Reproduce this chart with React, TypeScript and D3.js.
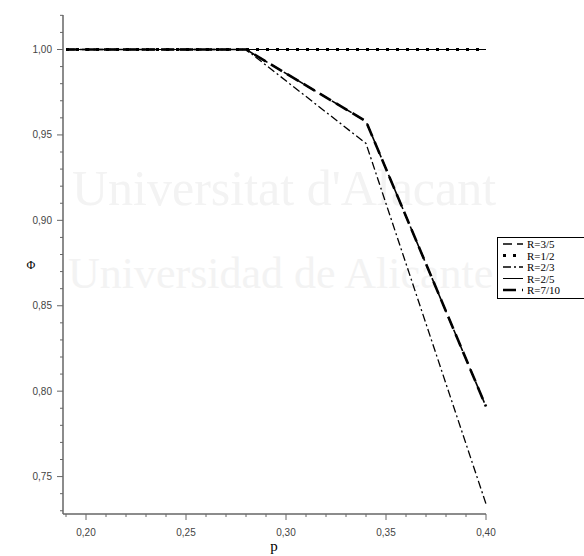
import * as d3 from "d3";
import React from "react";

// data
const pValues = [0.19, 0.22, 0.25, 0.28, 0.34, 0.4];
const phiR35 = [1.0, 1.0, 1.0, 1.0, 0.958, 0.791];
const phiR12 = [1.0, 1.0, 1.0, 1.0, 1.0, 1.0];
const phiR23 = [1.0, 1.0, 1.0, 1.0, 0.945, 0.734];
const phiR25 = [1.0, 1.0, 1.0, 1.0, 1.0, 1.0];
const phiR710 = [1.0, 1.0, 1.0, 1.0, 0.958, 0.791];

const seriesNames = ["R=3/5", "R=1/2", "R=2/3", "R=2/5", "R=7/10"];
const xTickLabels = ["0,20", "0,25", "0,30", "0,35", "0,40"];
const yTickLabels = ["0,75", "0,80", "0,85", "0,90", "0,95", "1,00"];

const styles = [
  { dash: "9,5", width: 1.6 },
  { dash: "3,7", width: 3 },
  { dash: "8,3,2,3", width: 1.3 },
  { dash: null, width: 1 },
  { dash: "13,6", width: 2.6 },
];

const App = () => {
  const width = 584;
  const height = 556;

  const x = d3.scaleLinear().domain([0.1885, 0.4]).range([63, 486]);
  const y = d3.scaleLinear().domain([0.7281, 1.0202]).range([514, 15]);

  const allSeries = [phiR35, phiR12, phiR23, phiR25, phiR710];

  const line = d3
    .line<number>()
    .x((_, i) => x(pValues[i]))
    .y((d) => y(d));

  // minor ticks every 0.01
  const xMinor = d3.range(19, 41).map((v) => v / 100);
  const yMinor = d3.range(73, 103).map((v) => v / 100);
  const xMajor = [0.2, 0.25, 0.3, 0.35, 0.4];
  const yMajor = [0.75, 0.8, 0.85, 0.9, 0.95, 1.0];

  const axisColor = "#666";
  const tickFont = "'Liberation Sans', 'DejaVu Sans', sans-serif";
  const serif = "'Liberation Serif', 'DejaVu Serif', serif";

  const isMajor = (v: number, majors: number[]) =>
    majors.some((m) => Math.abs(m - v) < 1e-6);

  return (
    <svg
      width={width}
      height={height}
      style={{ position: "absolute", left: 0, top: 0, background: "#fff" }}
    >
      {/* watermark */}
      <g fill="#f3f3f3" fontFamily={serif}>
        <text x={72} y={205} fontSize={50}>Universitat d'Alacant</text>
        <text x={68} y={288} fontSize={44}>Universidad de Alicante</text>
      </g>

      {/* series */}
      {allSeries.map((s, i) => (
        <path
          key={seriesNames[i]}
          d={line(s) || ""}
          fill="none"
          stroke="#000"
          strokeWidth={styles[i].width}
          strokeDasharray={styles[i].dash || undefined}
        />
      ))}

      {/* axes */}
      <g stroke={axisColor} strokeWidth={1.5}>
        <line x1={63} x2={63} y1={15} y2={514} />
        <line x1={63} x2={486} y1={514} y2={514} />
      </g>
      <g stroke={axisColor} strokeWidth={1}>
        {xMinor.map((v) => (
          <line
            key={"xm" + v}
            x1={x(v)}
            x2={x(v)}
            y1={514}
            y2={isMajor(v, xMajor) ? 520 : 517}
          />
        ))}
        {yMinor.map((v) => (
          <line
            key={"ym" + v}
            x1={isMajor(v, yMajor) ? 57 : 60}
            x2={63}
            y1={y(v)}
            y2={y(v)}
          />
        ))}
      </g>
      <g fill="#444" fontFamily={tickFont} fontSize={10}>
        {xMajor.map((v, i) => (
          <text key={"xl" + v} x={x(v)} y={536} textAnchor="middle">
            {xTickLabels[i]}
          </text>
        ))}
        {yMajor.map((v, i) => (
          <text key={"yl" + v} x={52} y={y(v) + 3.5} textAnchor="end">
            {yTickLabels[i]}
          </text>
        ))}
      </g>

      {/* axis titles */}
      <text x={274} y={551} fontFamily={serif} fontSize={15} textAnchor="middle">
        p
      </text>
      <text x={31} y={269} fontFamily={serif} fontSize={12} textAnchor="middle">
        Φ
      </text>

      {/* legend */}
      <rect x={497.5} y={237.5} width={100} height={61} fill="#fff" stroke="#000" strokeWidth={1} />
      {seriesNames.map((name, i) => {
        const ly = 244 + i * 11.5;
        return (
          <g key={"lg" + name}>
            <line
              x1={503}
              x2={523}
              y1={ly}
              y2={ly}
              stroke="#000"
              strokeWidth={styles[i].width}
              strokeDasharray={styles[i].dash || undefined}
            />
            <text x={527} y={ly + 4} fontFamily={serif} fontSize={11}>
              {name}
            </text>
          </g>
        );
      })}
    </svg>
  );
};

export default App;
